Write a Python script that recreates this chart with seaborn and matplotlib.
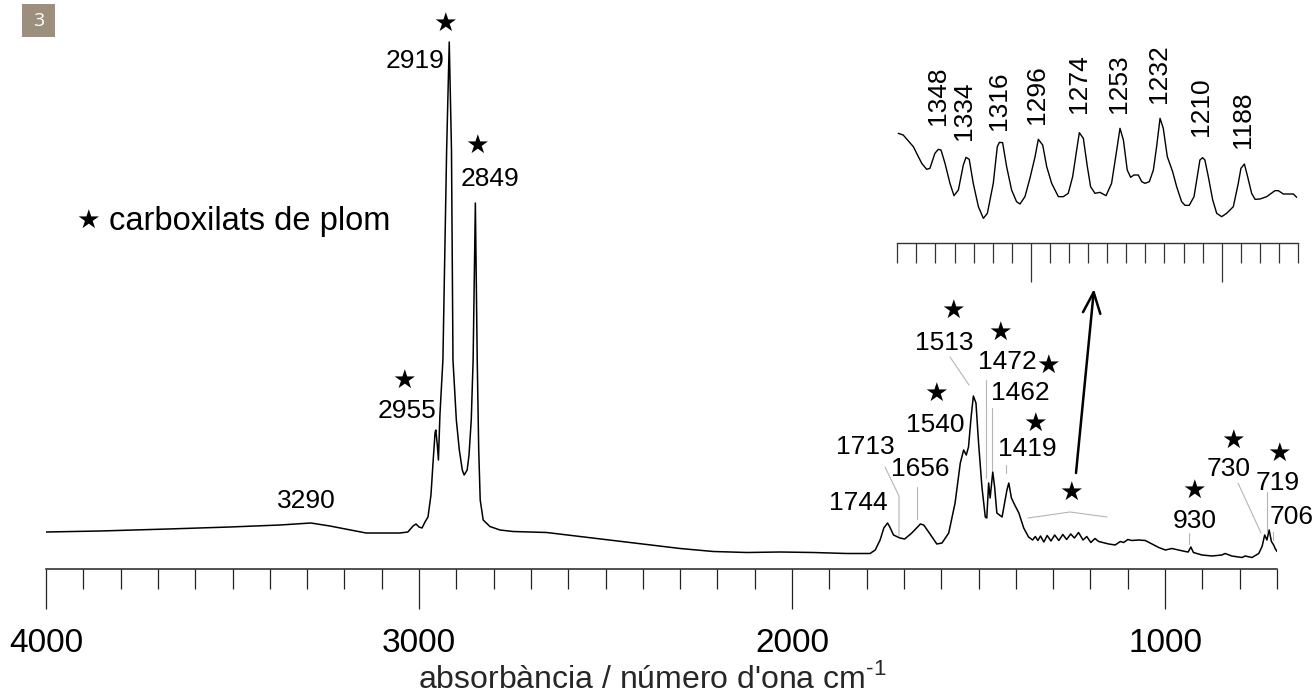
import numpy as np
import pandas as pd
import matplotlib.pyplot as plt
import seaborn as sns
from matplotlib.patches import Rectangle, FancyArrowPatch
from matplotlib.lines import Line2D
from matplotlib.transforms import blended_transform_factory

sns.set_theme(style="white")
plt.rcParams['font.family'] = ['Liberation Sans', 'DejaVu Sans']
plt.rcParams['mathtext.fontset'] = 'custom'
plt.rcParams['mathtext.rm'] = 'Liberation Sans'

# espectre complet (número d'ona cm-1, absorbància relativa)
wavenumber = [4000, 3855, 3673, 3507, 3373, 3290, 3239, 3142, 3051, 3030, 3016, 3008, 3000, 2992,
              2984, 2976, 2968, 2962, 2957, 2955, 2951, 2948, 2944, 2936, 2926, 2919, 2913, 2909,
              2900, 2892, 2884, 2879, 2871, 2866, 2860, 2855, 2849, 2844, 2840, 2836, 2828, 2810,
              2783, 2748, 2658, 2568, 2480, 2390, 2300, 2211, 2121, 2032, 1943, 1853, 1791, 1777,
              1764, 1754, 1744, 1738, 1728, 1711, 1698, 1679, 1656, 1647, 1632, 1612, 1598, 1580,
              1563, 1549, 1540, 1533, 1527, 1520, 1514, 1507, 1500, 1491, 1482, 1478, 1473, 1469,
              1462, 1457, 1451, 1437, 1424, 1419, 1412, 1403, 1392, 1379, 1366, 1355, 1348, 1341,
              1334, 1325, 1316, 1306, 1296, 1285, 1274, 1264, 1253, 1243, 1232, 1220, 1210, 1199,
              1188, 1178, 1151, 1134, 1120, 1111, 1100, 1089, 1071, 1053, 1035, 1017, 999, 982,
              964, 946, 938, 931, 924, 901, 874, 848, 839, 821, 794, 785, 767, 749, 740, 733, 727,
              721, 715, 709, 705, 700]
absorbance = [0.026, 0.028, 0.032, 0.036, 0.040, 0.044, 0.038, 0.024, 0.024, 0.026, 0.038, 0.042, 0.036, 0.034,
              0.046, 0.056, 0.100, 0.170, 0.225, 0.230, 0.200, 0.170, 0.260, 0.370, 0.790, 1.006, 0.790, 0.370,
              0.250, 0.190, 0.150, 0.140, 0.150, 0.180, 0.250, 0.370, 0.684, 0.370, 0.190, 0.090, 0.050, 0.037,
              0.030, 0.027, 0.025, 0.017, 0.009, 0.001, -0.007, -0.013, -0.015, -0.014, -0.015, -0.017, -0.017, -0.010,
              0.010, 0.034, 0.044, 0.036, 0.020, 0.014, 0.012, 0.024, 0.042, 0.040, 0.024, 0.002, 0.004, 0.024,
              0.084, 0.164, 0.190, 0.180, 0.196, 0.256, 0.298, 0.284, 0.204, 0.116, 0.056, 0.054, 0.124, 0.094,
              0.146, 0.116, 0.064, 0.056, 0.110, 0.124, 0.094, 0.080, 0.064, 0.034, 0.016, 0.010, 0.017, 0.009,
              0.018, 0.006, 0.019, 0.008, 0.020, 0.009, 0.021, 0.011, 0.022, 0.014, 0.025, 0.010, 0.017, 0.005,
              0.013, 0.007, 0.002, 0.000, 0.007, 0.005, 0.011, 0.009, 0.010, 0.009, 0.002, -0.005, -0.010, -0.007,
              -0.010, -0.013, -0.014, -0.004, -0.015, -0.020, -0.022, -0.020, -0.017, -0.022, -0.025, -0.022, -0.025, -0.017, -0.003, 0.020, 0.010,
              0.030, 0.007, 0.000, -0.007, -0.013]

# ampliació de la zona 1370-1160 cm-1
zoom_wavenumber = [1369.5, 1366.9, 1361.6, 1357.2, 1354.6, 1352.9, 1350.3, 1348.5, 1347.1, 1345.0,
                   1342.4, 1340.3, 1338.0, 1335.4, 1334.0, 1332.3, 1330.2, 1327.5, 1324.9, 1322.8,
                   1319.7, 1317.6, 1316.5, 1314.8, 1312.7, 1310.1, 1307.5, 1305.7, 1303.1, 1300.5,
                   1297.8, 1296.1, 1293.8, 1291.7, 1289.1, 1285.6, 1283.0, 1280.4, 1278.1, 1276.0,
                   1274.6, 1272.5, 1270.4, 1268.7, 1266.4, 1263.8, 1260.6, 1257.7, 1255.0, 1253.3,
                   1251.5, 1249.5, 1247.7, 1246.0, 1243.7, 1241.9, 1240.2, 1237.9, 1235.8, 1234.1,
                   1232.3, 1230.6, 1228.5, 1225.7, 1223.6, 1221.0, 1219.2, 1217.0, 1214.5, 1212.8,
                   1211.4, 1210.0, 1208.8, 1207.0, 1204.7, 1202.6, 1200.0, 1197.4, 1193.9, 1191.3,
                   1189.9, 1188.1, 1186.4, 1184.3, 1182.5, 1179.9, 1176.4, 1172.1, 1170.3, 1167.7,
                   1165.1, 1162.4, 1160.7]
zoom_absorbance = [2.60, 2.55, 2.20, 1.70, 1.52, 1.55, 2.00, 2.12, 2.10, 1.70,
                   1.10, 0.73, 0.90, 1.65, 1.88, 1.82, 1.10, 0.40, 0.05, 0.20,
                   1.10, 2.20, 2.33, 2.32, 1.60, 0.90, 0.55, 0.48, 0.70, 1.25,
                   1.90, 2.42, 2.25, 1.60, 1.10, 0.70, 0.70, 0.80, 1.30, 2.10,
                   2.62, 2.45, 1.60, 1.00, 0.80, 0.83, 0.73, 1.10, 2.10, 2.75,
                   2.40, 1.50, 1.28, 1.35, 1.35, 1.15, 1.10, 1.15, 1.50, 2.20,
                   3.05, 2.75, 1.90, 1.45, 1.00, 0.55, 0.44, 0.44, 0.70, 1.30,
                   1.80, 1.87, 1.80, 1.30, 0.60, 0.20, 0.10, 0.20, 0.40, 1.10,
                   1.55, 1.68, 1.30, 0.80, 0.62, 0.63, 0.70, 0.88, 0.88, 0.78,
                   0.78, 0.78, 0.68]
zoom_peaks = ["1348", "1334", "1316", "1296", "1274", "1253", "1232", "1210", "1188"]

# --- layout (reference pixels, origin top-left) ---
W, H = 1316, 695
peak_labels = [("3290", 306, 498), ("2955", 407, 408), ("2919", 415, 59), ("2849", 490, 177),
               ("1744", 858, 501), ("1713", 865, 444), ("1656", 920, 467), ("1540", 935, 422),
               ("1513", 944, 340), ("1472", 1007, 360), ("1462", 1020, 390), ("1419", 1027, 447),
               ("930", 1195, 518), ("730", 1229, 466), ("719", 1278, 481), ("706", 1292, 514)]
star_pos = [(404, 380), (445, 23), (477, 145), (936, 393), (953, 310), (1000, 332), (1048, 365),
            (1035, 423), (1071, 492), (1194, 490), (1233, 440), (1279, 453)]
leaders = [[(885, 467), (899, 496), (899, 536)],
           [(917, 487), (917, 519)],
           [(950, 357), (969, 385)],
           [(986, 380), (986, 478)],
           [(992, 408), (992, 470)],
           [(1006, 465), (1006, 473)],
           [(1189, 533), (1189, 544)],
           [(1238, 483), (1261, 533)],
           [(1267, 492), (1267, 532)],
           [(1273, 532), (1273, 540)],
           [(1028, 518), (1070, 512), (1107, 517)]]
zoom_label_bottom = [125, 140, 130, 124, 113, 113, 103, 136, 148]


def fxy(x, y):
    return (x / W, 1 - y / H)


df = pd.DataFrame({"wn": wavenumber, "abs": absorbance})
dz = pd.DataFrame({"wn": zoom_wavenumber, "abs": zoom_absorbance})

fig = plt.figure(figsize=(W / 100, H / 100), dpi=100)
fig.patch.set_facecolor("white")

ax = fig.add_axes([46 / W, (H - 569) / H, (1277 - 46) / W, (569 - 20) / H])
sns.lineplot(data=df, x="wn", y="abs", ax=ax, color="black", lw=1.1, estimator=None, errorbar=None)
ax.set_xlim(4000, 700)
ax.set_ylim(-0.048, 1.05)
ax.set_facecolor("none")
for s in ["left", "top", "right"]:
    ax.spines[s].set_visible(False)
ax.spines["bottom"].set_linewidth(1.1)
ax.spines["bottom"].set_color("#222222")
ax.set_yticks([])
ax.set_ylabel("")
ax.set_xticks([4000, 3000, 2000, 1000])
ax.set_xticks(np.arange(700, 4001, 100), minor=True)
ax.tick_params(axis="x", which="major", direction="out", length=28.8, width=0.9,
               color="#222222", pad=14, labelsize=24, labelcolor="black", bottom=True)
ax.tick_params(axis="x", which="minor", direction="out", length=14.4, width=0.9,
               color="#222222", bottom=True)
ax.set_xlabel("absorbància / número d'ona cm$^{\\mathregular{\u20101}}$", fontsize=23)
ax.xaxis.set_label_coords((652 - 46) / (1277 - 46), (569 - 663) / (569 - 20))

# inset
ax_in = fig.add_axes([897.3 / W, (H - 243) / H, (1298 - 897.3) / W, (243 - 100) / H])
sns.lineplot(data=dz, x="wn", y="abs", ax=ax_in, color="black", lw=1.0, estimator=None, errorbar=None)
ax_in.set_xlim(1370, 1160)
ax_in.set_ylim(-0.69, 3.6)
ax_in.set_facecolor("none")
for s in ["left", "top", "right"]:
    ax_in.spines[s].set_visible(False)
ax_in.spines["bottom"].set_linewidth(1.0)
ax_in.spines["bottom"].set_color("#333333")
ax_in.set_yticks([])
ax_in.set_ylabel("")
ax_in.set_xlabel("")
ax_in.set_xticks([1300, 1200])
ax_in.set_xticks(np.arange(1160, 1371, 10), minor=True)
ax_in.tick_params(axis="x", which="major", direction="out", length=28, width=0.9,
                  color="#333333", labelbottom=False, bottom=True)
ax_in.tick_params(axis="x", which="minor", direction="out", length=14.4, width=0.9,
                  color="#333333", bottom=True)
blend = blended_transform_factory(ax_in.transData, fig.transFigure)
for lab, yb in zip(zoom_peaks, zoom_label_bottom):
    ax_in.text(float(lab) + 0.8, 1 - yb / H, lab, transform=blend, rotation=90,
               ha="center", va="bottom", fontsize=19, color="black")

# etiquetes de pics
for lab, x, y in peak_labels:
    fig.text(*fxy(x, y + 9.5), lab, ha="center", va="baseline", fontsize=19, color="black")
for x, y in star_pos:
    fig.text(*fxy(x, y + 8), "\u2605", ha="center", va="baseline", fontsize=19,
             family="DejaVu Sans", color="black")
for pts in leaders:
    xs = [p[0] / W for p in pts]
    ys = [1 - p[1] / H for p in pts]
    fig.add_artist(Line2D(xs, ys, transform=fig.transFigure, color="#b5b5b5", lw=0.8))

# fletxa cap a l'ampliació
fig.add_artist(FancyArrowPatch(fxy(1076, 473), fxy(1094, 289), transform=fig.transFigure,
                               arrowstyle="->,head_length=0.6,head_width=0.25", mutation_scale=25,
                               lw=1.8, color="black", shrinkA=0, shrinkB=0))

# llegenda
fig.text(*fxy(88, 228), "\u2605", ha="center", va="baseline", fontsize=19,
         family="DejaVu Sans", color="black")
fig.text(*fxy(109, 230), "carboxilats de plom", ha="left", va="baseline", fontsize=23.5, color="black")

# número de figura
fig.patches.append(Rectangle(fxy(22, 37), 33 / W, 33 / H, transform=fig.transFigure,
                             facecolor="#9c8f7d", edgecolor="none"))
fig.text(*fxy(38.5, 21), "3", ha="center", va="center", fontsize=14, color="white",
         family="Open Sans")

fig.savefig("out.png", dpi=100)
